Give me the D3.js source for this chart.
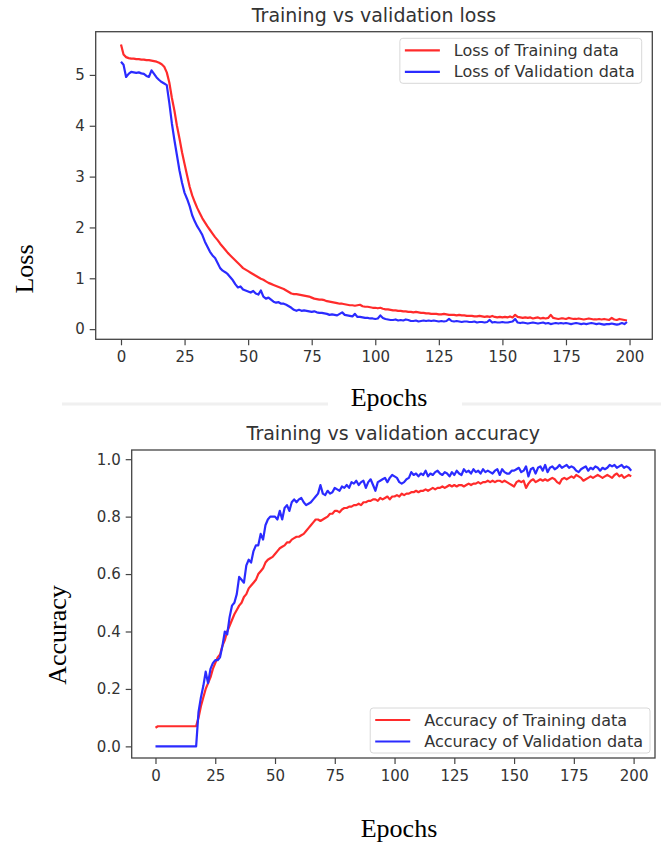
<!DOCTYPE html>
<html>
<head>
<meta charset="utf-8">
<script src="https://d3js.org/d3.v7.min.js"></script>
<style>
  body { margin: 0; background: #fff; }
  .tick text { font-family: "DejaVu Sans", sans-serif; font-size: 15px; fill: #333; }
  .tick line { stroke: #444; stroke-width: 1.2; }
  .title { font-family: "DejaVu Sans", sans-serif; font-size: 19px; fill: #333; }
  .legend text { font-family: "DejaVu Sans", sans-serif; font-size: 16px; fill: #333; }
  .label { font-family: "Liberation Serif", "Times New Roman", serif; font-size: 26px; fill: #000; }
</style>
</head>
<body>
<svg id="chart" width="661" height="846"></svg>
<script>
// epochs 0..199
const epochs = d3.range(200);
const xTicks = [0, 25, 50, 75, 100, 125, 150, 175, 200];
const lossTicks = [0, 1, 2, 3, 4, 5];
const accTicks = [0, 0.2, 0.4, 0.6, 0.8, 1.0];

const trainLoss = [
  5.60, 5.40, 5.35, 5.33, 5.32, 5.32, 5.31, 5.31, 5.30, 5.30,
  5.29, 5.29, 5.28, 5.27, 5.26, 5.24, 5.21, 5.16, 5.05, 4.85,
  4.55, 4.30, 4.00, 3.75, 3.48, 3.25, 3.02, 2.80, 2.63, 2.50,
  2.38, 2.28, 2.18, 2.10, 2.02, 1.95, 1.88, 1.81, 1.75, 1.68,
  1.62, 1.56, 1.50, 1.45, 1.40, 1.35, 1.30, 1.25, 1.20, 1.17,
  1.14, 1.11, 1.08, 1.05, 1.02, 0.99, 0.97, 0.94, 0.91, 0.89,
  0.87, 0.85, 0.83, 0.81, 0.79, 0.76, 0.73, 0.70, 0.69, 0.69,
  0.68, 0.67, 0.66, 0.65, 0.64, 0.62, 0.60, 0.59, 0.58, 0.58,
  0.57, 0.55, 0.54, 0.53, 0.52, 0.51, 0.50, 0.50, 0.49, 0.48,
  0.47, 0.47, 0.46, 0.47, 0.48, 0.45, 0.44, 0.44, 0.43, 0.42,
  0.42, 0.41, 0.42, 0.40, 0.39, 0.39, 0.38, 0.37, 0.37, 0.36,
  0.36, 0.35, 0.35, 0.34, 0.34, 0.33, 0.34, 0.33, 0.32, 0.32,
  0.31, 0.31, 0.30, 0.30, 0.30, 0.29, 0.29, 0.30, 0.29, 0.28,
  0.28, 0.28, 0.27, 0.28, 0.27, 0.27, 0.26, 0.26, 0.26, 0.25,
  0.25, 0.26, 0.25, 0.24, 0.25, 0.24, 0.26, 0.24, 0.23, 0.24,
  0.23, 0.24, 0.23, 0.25, 0.23, 0.28, 0.24, 0.23, 0.22, 0.23,
  0.22, 0.23, 0.21, 0.22, 0.23, 0.21, 0.22, 0.21, 0.22, 0.28,
  0.22, 0.21, 0.20, 0.21, 0.21, 0.20, 0.22, 0.21, 0.20, 0.20,
  0.21, 0.20, 0.19, 0.20, 0.21, 0.20, 0.19, 0.19, 0.20, 0.19,
  0.20, 0.19, 0.18, 0.22, 0.19, 0.18, 0.20, 0.19, 0.18, 0.17
];
const valLoss = [
  5.26, 5.20, 4.96, 5.02, 5.06, 5.05, 5.04, 5.05, 5.03, 5.02,
  4.98, 4.96, 5.09, 5.02, 4.95, 4.90, 4.86, 4.83, 4.80, 4.45,
  4.05, 3.72, 3.42, 3.12, 2.88, 2.68, 2.56, 2.42, 2.24, 2.12,
  2.02, 1.94, 1.85, 1.72, 1.62, 1.52, 1.45, 1.40, 1.30, 1.20,
  1.15, 1.12, 1.08, 1.02, 0.96, 0.88, 0.82, 0.84, 0.78, 0.76,
  0.74, 0.72, 0.75, 0.70, 0.68, 0.76, 0.64, 0.60, 0.62, 0.58,
  0.54, 0.52, 0.53, 0.50, 0.50, 0.48, 0.45, 0.42, 0.38, 0.36,
  0.38, 0.36, 0.37, 0.36, 0.35, 0.34, 0.35, 0.33, 0.32, 0.32,
  0.31, 0.30, 0.28, 0.29, 0.28, 0.27, 0.30, 0.33, 0.28, 0.27,
  0.26, 0.25, 0.30, 0.24, 0.24, 0.23, 0.22, 0.22, 0.21, 0.21,
  0.20, 0.21, 0.27, 0.22, 0.20, 0.19, 0.18, 0.18, 0.19, 0.17,
  0.18, 0.17, 0.19, 0.18, 0.16, 0.16, 0.17, 0.15, 0.16, 0.17,
  0.16, 0.17, 0.16, 0.17, 0.16, 0.15, 0.16, 0.15, 0.16, 0.20,
  0.16, 0.15, 0.16, 0.15, 0.14, 0.15, 0.15, 0.14, 0.14, 0.15,
  0.13, 0.14, 0.14, 0.13, 0.14, 0.18, 0.13, 0.14, 0.13, 0.13,
  0.14, 0.13, 0.13, 0.14, 0.15, 0.20, 0.13, 0.12, 0.13, 0.12,
  0.11, 0.12, 0.13, 0.12, 0.11, 0.12, 0.13, 0.11, 0.12, 0.10,
  0.11, 0.12, 0.11, 0.12, 0.11, 0.12, 0.11, 0.10, 0.11, 0.12,
  0.11, 0.10, 0.11, 0.10, 0.11, 0.12, 0.11, 0.10, 0.11, 0.10,
  0.09, 0.10, 0.10, 0.11, 0.10, 0.09, 0.10, 0.12, 0.10, 0.14
];
const trainAcc = [
  0.065, 0.07, 0.07, 0.07, 0.07, 0.07, 0.07, 0.07, 0.07, 0.07,
  0.07, 0.07, 0.07, 0.07, 0.07, 0.07, 0.07, 0.07, 0.10, 0.14,
  0.17, 0.20, 0.22, 0.24, 0.27, 0.29, 0.31, 0.32, 0.35, 0.37,
  0.40, 0.42, 0.44, 0.46, 0.475, 0.49, 0.50, 0.52, 0.53, 0.55,
  0.56, 0.57, 0.58, 0.60, 0.61, 0.62, 0.64, 0.65, 0.655, 0.66,
  0.67, 0.68, 0.69, 0.695, 0.70, 0.71, 0.71, 0.72, 0.725, 0.73,
  0.73, 0.735, 0.74, 0.75, 0.76, 0.77, 0.78, 0.79, 0.79, 0.785,
  0.79, 0.795, 0.80, 0.81, 0.81, 0.82, 0.82, 0.815, 0.825, 0.83,
  0.83, 0.835, 0.835, 0.84, 0.84, 0.845, 0.84, 0.85, 0.85, 0.855,
  0.855, 0.86, 0.86, 0.855, 0.865, 0.86, 0.865, 0.87, 0.86, 0.87,
  0.87, 0.875, 0.87, 0.88, 0.875, 0.88, 0.88, 0.885, 0.885, 0.89,
  0.885, 0.89, 0.89, 0.895, 0.89, 0.895, 0.90, 0.895, 0.90, 0.90,
  0.905, 0.90, 0.905, 0.91, 0.905, 0.91, 0.905, 0.91, 0.91, 0.905,
  0.91, 0.915, 0.91, 0.915, 0.915, 0.92, 0.915, 0.92, 0.92, 0.925,
  0.92, 0.925, 0.92, 0.925, 0.925, 0.92, 0.925, 0.92, 0.915, 0.91,
  0.905, 0.92, 0.925, 0.92, 0.925, 0.90, 0.915, 0.925, 0.93, 0.92,
  0.925, 0.93, 0.925, 0.93, 0.925, 0.93, 0.935, 0.93, 0.92, 0.915,
  0.93, 0.935, 0.93, 0.935, 0.94, 0.935, 0.945, 0.94, 0.935, 0.925,
  0.93, 0.935, 0.94, 0.935, 0.94, 0.945, 0.94, 0.935, 0.94, 0.945,
  0.94, 0.935, 0.945, 0.95, 0.94, 0.945, 0.935, 0.94, 0.945, 0.94
];
const valAcc = [
  0, 0, 0, 0, 0, 0, 0, 0, 0, 0,
  0, 0, 0, 0, 0, 0, 0, 0, 0.12, 0.17,
  0.21, 0.26, 0.22, 0.27, 0.29, 0.30, 0.30, 0.31, 0.35, 0.40,
  0.39, 0.45, 0.49, 0.50, 0.53, 0.59, 0.58, 0.57, 0.63, 0.65,
  0.64, 0.68, 0.70, 0.70, 0.74, 0.72, 0.77, 0.79, 0.80, 0.80,
  0.80, 0.79, 0.82, 0.79, 0.83, 0.84, 0.82, 0.85, 0.86, 0.85,
  0.86, 0.865, 0.85, 0.84, 0.845, 0.85, 0.86, 0.87, 0.88, 0.91,
  0.88, 0.875, 0.89, 0.88, 0.885, 0.90, 0.895, 0.89, 0.905, 0.90,
  0.91, 0.90, 0.92, 0.915, 0.925, 0.91, 0.92, 0.925, 0.90, 0.92,
  0.93, 0.91, 0.89, 0.92, 0.925, 0.93, 0.935, 0.92, 0.935, 0.945,
  0.94, 0.935, 0.92, 0.915, 0.92, 0.93, 0.935, 0.955, 0.945, 0.95,
  0.94, 0.95, 0.945, 0.96, 0.94, 0.95, 0.945, 0.955, 0.96, 0.95,
  0.945, 0.955, 0.95, 0.94, 0.955, 0.945, 0.96, 0.95, 0.945, 0.965,
  0.955, 0.96, 0.95, 0.965, 0.955, 0.96, 0.95, 0.965, 0.955, 0.96,
  0.955, 0.95, 0.96, 0.965, 0.945, 0.965, 0.955, 0.95, 0.95, 0.96,
  0.96, 0.965, 0.97, 0.955, 0.96, 0.975, 0.94, 0.965, 0.97, 0.95,
  0.97, 0.975, 0.96, 0.98, 0.955, 0.97, 0.975, 0.965, 0.97, 0.98,
  0.97, 0.975, 0.98, 0.97, 0.975, 0.97, 0.96, 0.955, 0.965, 0.97,
  0.975, 0.96, 0.97, 0.965, 0.975, 0.97, 0.96, 0.97, 0.965, 0.97,
  0.98, 0.975, 0.98, 0.97, 0.975, 0.98, 0.97, 0.975, 0.97, 0.96
];

const RED = '#ff2b2b', BLUE = '#2b2bff';
const svg = d3.select('#chart');

// light page separator between the two figures
svg.append('line').attr('x1', 62).attr('x2', 328).attr('y1', 404).attr('y2', 404)
  .attr('stroke', '#f0f0f0').attr('stroke-width', 3);
svg.append('line').attr('x1', 462).attr('x2', 661).attr('y1', 404).attr('y2', 404)
  .attr('stroke', '#f0f0f0').attr('stroke-width', 3);

function drawPanel(p) {
  var x = d3.scaleLinear().domain([-9.95, 208.95]).range([p.left, p.right]);
  var y = d3.scaleLinear().domain(p.yDomain).range([p.bottom, p.top]);
  var g = svg.append('g');

  var line = d3.line()
    .x(function(d, i) { return x(epochs[i]); })
    .y(function(d) { return y(d); });

  p.series.forEach(function(s) {
    g.append('path')
      .attr('d', line(s.values))
      .attr('fill', 'none')
      .attr('stroke', s.color)
      .attr('stroke-width', 2.2)
      .attr('stroke-linejoin', 'round');
  });

  g.append('rect')
    .attr('x', p.left).attr('y', p.top)
    .attr('width', p.right - p.left).attr('height', p.bottom - p.top)
    .attr('fill', 'none').attr('stroke', '#444').attr('stroke-width', 1.3);

  g.append('g')
    .attr('transform', 'translate(0,' + p.bottom + ')')
    .call(d3.axisBottom(x).tickValues(xTicks).tickSize(6).tickPadding(6))
    .call(function(a) { a.select('.domain').remove(); });

  g.append('g')
    .attr('transform', 'translate(' + p.left + ',0)')
    .call(d3.axisLeft(y).tickValues(p.yTicks).tickFormat(p.yFormat).tickSize(6).tickPadding(5))
    .call(function(a) { a.select('.domain').remove(); });

  g.append('text').attr('class', 'title')
    .attr('x', (p.left + p.right) / 2).attr('y', p.titleY)
    .attr('text-anchor', 'middle').text(p.title);

  // legend
  var lg = g.append('g').attr('class', 'legend');
  var box = lg.append('rect');
  var widths = p.series.map(function(s, i) {
    var t = lg.append('text').attr('dominant-baseline', 'central').text(s.name);
    return t.node().getComputedTextLength();
  });
  var bw = 54 + d3.max(widths) + 7, bh = 45;
  var bx = p.right - p.legendGap - bw;
  var by = p.legendPos === 'upper' ? p.top + 6.6 : p.bottom - 5 - bh;
  box.attr('x', bx).attr('y', by).attr('width', bw).attr('height', bh)
    .attr('rx', 3).attr('fill', '#fff').attr('fill-opacity', 0.8)
    .attr('stroke', '#d8d8d8').attr('stroke-width', 1);
  lg.selectAll('text').each(function(d, i) {
    d3.select(this).attr('x', bx + 54).attr('y', by + 12 + i * 21.5);
  });
  p.series.forEach(function(s, i) {
    lg.append('line')
      .attr('x1', bx + 5).attr('x2', bx + 40)
      .attr('y1', by + 12 + i * 21.5).attr('y2', by + 12 + i * 21.5)
      .attr('stroke', s.color).attr('stroke-width', 2.2);
  });

  svg.append('text').attr('class', 'label')
    .attr('x', p.xLabel[0]).attr('y', p.xLabel[1])
    .attr('text-anchor', 'middle').text('Epochs');
  svg.append('text').attr('class', 'label')
    .attr('transform', 'translate(' + p.yLabel[0] + ',' + p.yLabel[1] + ') rotate(-90)')
    .attr('text-anchor', 'middle').attr('dominant-baseline', 'central')
    .text(p.yName);
}

drawPanel({
  left: 95.7, right: 652.3, top: 31.7, bottom: 339.3,
  yDomain: [-0.2, 5.85], yTicks: lossTicks, yFormat: d3.format('d'),
  title: 'Training vs validation loss', titleY: 22,
  series: [
    { name: 'Loss of Training data', values: trainLoss, color: RED },
    { name: 'Loss of Validation data', values: valLoss, color: BLUE }
  ],
  legendPos: 'upper', legendGap: 10.6,
  xLabel: [389, 406], yLabel: [24, 269], yName: 'Loss'
});

drawPanel({
  left: 131.7, right: 655, top: 450, bottom: 758,
  yDomain: [-0.0405, 1.032], yTicks: accTicks, yFormat: d3.format('.1f'),
  title: 'Training vs validation accuracy', titleY: 440,
  series: [
    { name: 'Accuracy of Training data', values: trainAcc, color: RED },
    { name: 'Accuracy of Validation data', values: valAcc, color: BLUE }
  ],
  legendPos: 'lower', legendGap: 5,
  xLabel: [399, 837], yLabel: [57, 635], yName: 'Accuracy'
});
</script>
</body>
</html>
